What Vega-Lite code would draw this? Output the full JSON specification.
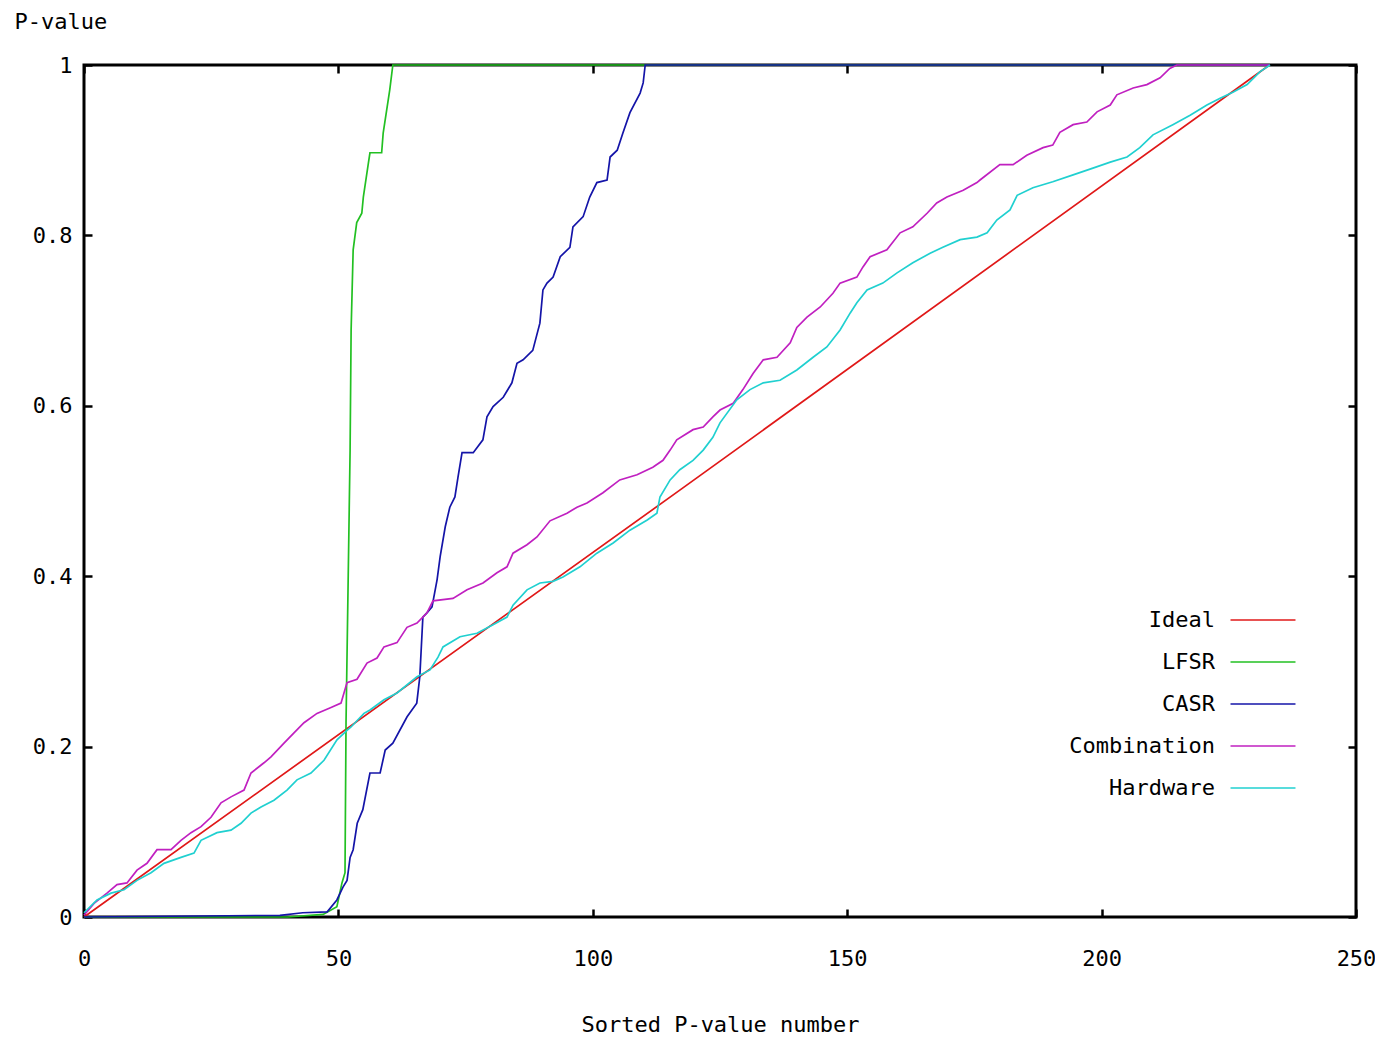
{
  "$schema": "https://vega.github.io/schema/vega-lite/v6.json",
  "autosize": {"type": "none"},
  "padding": {"left": 84, "top": 65, "right": 19, "bottom": 121},
  "width": 1272,
  "height": 852,
  "background": "white",
  "config": {
    "font": "DejaVu Sans Mono",
    "view": {"stroke": "black", "strokeWidth": 3},
    "axis": {"labelFont": "DejaVu Sans Mono", "titleFont": "DejaVu Sans Mono", "labelFontSize": 22, "titleFontSize": 22, "labelColor": "black", "titleColor": "black", "titleFontWeight": "normal", "grid": false, "domain": false, "tickColor": "black", "tickWidth": 2.5, "tickSize": -8, "labelFlush": false},
    "legend": {"labelFont": "DejaVu Sans Mono", "labelFontSize": 22, "labelColor": "black"}
  },
  "data": {"values": [
    {"series":"Ideal","n":0,"p":0},
    {"series":"Ideal","n":117.1,"p":0.501},
    {"series":"Ideal","n":233,"p":1},

    {"series":"LFSR","n":0,"p":0},
    {"series":"LFSR","n":40,"p":0},
    {"series":"LFSR","n":47,"p":0.003},
    {"series":"LFSR","n":49.7,"p":0.012},
    {"series":"LFSR","n":50.7,"p":0.04},
    {"series":"LFSR","n":51.3,"p":0.052},
    {"series":"LFSR","n":51.5,"p":0.228},
    {"series":"LFSR","n":52.3,"p":0.548},
    {"series":"LFSR","n":52.5,"p":0.689},
    {"series":"LFSR","n":52.9,"p":0.783},
    {"series":"LFSR","n":53.6,"p":0.815},
    {"series":"LFSR","n":54.6,"p":0.826},
    {"series":"LFSR","n":54.9,"p":0.845},
    {"series":"LFSR","n":55.9,"p":0.885},
    {"series":"LFSR","n":56.2,"p":0.897},
    {"series":"LFSR","n":58.5,"p":0.897},
    {"series":"LFSR","n":58.8,"p":0.92},
    {"series":"LFSR","n":60.1,"p":0.971},
    {"series":"LFSR","n":60.7,"p":1},
    {"series":"LFSR","n":233,"p":1},

    {"series":"CASR","n":0,"p":0},
    {"series":"CASR","n":38.5,"p":0.002},
    {"series":"CASR","n":43,"p":0.005},
    {"series":"CASR","n":47.8,"p":0.006},
    {"series":"CASR","n":49.7,"p":0.02},
    {"series":"CASR","n":50.9,"p":0.035},
    {"series":"CASR","n":51.7,"p":0.043},
    {"series":"CASR","n":52.3,"p":0.07},
    {"series":"CASR","n":52.9,"p":0.079},
    {"series":"CASR","n":53.7,"p":0.11},
    {"series":"CASR","n":54.8,"p":0.126},
    {"series":"CASR","n":56.2,"p":0.169},
    {"series":"CASR","n":58.2,"p":0.169},
    {"series":"CASR","n":59.2,"p":0.196},
    {"series":"CASR","n":60.7,"p":0.204},
    {"series":"CASR","n":63.5,"p":0.235},
    {"series":"CASR","n":65.4,"p":0.251},
    {"series":"CASR","n":66.0,"p":0.282},
    {"series":"CASR","n":66.6,"p":0.352},
    {"series":"CASR","n":67.4,"p":0.357},
    {"series":"CASR","n":68.4,"p":0.364},
    {"series":"CASR","n":69.4,"p":0.396},
    {"series":"CASR","n":70.0,"p":0.423},
    {"series":"CASR","n":71.0,"p":0.458},
    {"series":"CASR","n":71.9,"p":0.481},
    {"series":"CASR","n":72.9,"p":0.493},
    {"series":"CASR","n":73.5,"p":0.516},
    {"series":"CASR","n":74.3,"p":0.545},
    {"series":"CASR","n":76.5,"p":0.545},
    {"series":"CASR","n":78.4,"p":0.56},
    {"series":"CASR","n":79.2,"p":0.587},
    {"series":"CASR","n":80.4,"p":0.599},
    {"series":"CASR","n":82.4,"p":0.61},
    {"series":"CASR","n":84.1,"p":0.627},
    {"series":"CASR","n":85.1,"p":0.65},
    {"series":"CASR","n":86.3,"p":0.654},
    {"series":"CASR","n":88.2,"p":0.665},
    {"series":"CASR","n":89.6,"p":0.697},
    {"series":"CASR","n":90.2,"p":0.736},
    {"series":"CASR","n":91.0,"p":0.744},
    {"series":"CASR","n":92.2,"p":0.751},
    {"series":"CASR","n":93.6,"p":0.775},
    {"series":"CASR","n":95.5,"p":0.786},
    {"series":"CASR","n":96.1,"p":0.81},
    {"series":"CASR","n":98.1,"p":0.822},
    {"series":"CASR","n":99.4,"p":0.845},
    {"series":"CASR","n":100.8,"p":0.862},
    {"series":"CASR","n":102.8,"p":0.865},
    {"series":"CASR","n":103.4,"p":0.892},
    {"series":"CASR","n":104.8,"p":0.9},
    {"series":"CASR","n":105.9,"p":0.92},
    {"series":"CASR","n":107.3,"p":0.944},
    {"series":"CASR","n":109.3,"p":0.967},
    {"series":"CASR","n":109.9,"p":0.979},
    {"series":"CASR","n":110.3,"p":1},
    {"series":"CASR","n":233,"p":1},

    {"series":"Combination","n":0,"p":0.002},
    {"series":"Combination","n":1.97,"p":0.016},
    {"series":"Combination","n":4.52,"p":0.028},
    {"series":"Combination","n":6.49,"p":0.038},
    {"series":"Combination","n":8.45,"p":0.04},
    {"series":"Combination","n":10.42,"p":0.055},
    {"series":"Combination","n":12.38,"p":0.063},
    {"series":"Combination","n":14.35,"p":0.079},
    {"series":"Combination","n":17.1,"p":0.079},
    {"series":"Combination","n":19.06,"p":0.09},
    {"series":"Combination","n":21.03,"p":0.099},
    {"series":"Combination","n":23.0,"p":0.106},
    {"series":"Combination","n":24.96,"p":0.117},
    {"series":"Combination","n":26.93,"p":0.134},
    {"series":"Combination","n":28.89,"p":0.141},
    {"series":"Combination","n":31.45,"p":0.149},
    {"series":"Combination","n":32.82,"p":0.169},
    {"series":"Combination","n":35.38,"p":0.181},
    {"series":"Combination","n":36.75,"p":0.188},
    {"series":"Combination","n":39.31,"p":0.204},
    {"series":"Combination","n":41.27,"p":0.216},
    {"series":"Combination","n":43.24,"p":0.228},
    {"series":"Combination","n":45.79,"p":0.239},
    {"series":"Combination","n":48.55,"p":0.246},
    {"series":"Combination","n":50.51,"p":0.251},
    {"series":"Combination","n":51.69,"p":0.275},
    {"series":"Combination","n":53.66,"p":0.279},
    {"series":"Combination","n":55.62,"p":0.298},
    {"series":"Combination","n":57.59,"p":0.304},
    {"series":"Combination","n":58.96,"p":0.317},
    {"series":"Combination","n":61.52,"p":0.322},
    {"series":"Combination","n":63.48,"p":0.34},
    {"series":"Combination","n":65.45,"p":0.345},
    {"series":"Combination","n":67.41,"p":0.357},
    {"series":"Combination","n":68.59,"p":0.371},
    {"series":"Combination","n":72.52,"p":0.374},
    {"series":"Combination","n":75.28,"p":0.384},
    {"series":"Combination","n":78.42,"p":0.392},
    {"series":"Combination","n":81.17,"p":0.404},
    {"series":"Combination","n":83.14,"p":0.411},
    {"series":"Combination","n":84.32,"p":0.427},
    {"series":"Combination","n":87.07,"p":0.437},
    {"series":"Combination","n":89.03,"p":0.446},
    {"series":"Combination","n":91.59,"p":0.465},
    {"series":"Combination","n":94.93,"p":0.474},
    {"series":"Combination","n":96.9,"p":0.481},
    {"series":"Combination","n":98.86,"p":0.486},
    {"series":"Combination","n":102.0,"p":0.498},
    {"series":"Combination","n":105.3,"p":0.513},
    {"series":"Combination","n":108.7,"p":0.519},
    {"series":"Combination","n":111.8,"p":0.528},
    {"series":"Combination","n":113.8,"p":0.536},
    {"series":"Combination","n":115.2,"p":0.548},
    {"series":"Combination","n":116.5,"p":0.56},
    {"series":"Combination","n":119.7,"p":0.572},
    {"series":"Combination","n":121.7,"p":0.575},
    {"series":"Combination","n":123.6,"p":0.587},
    {"series":"Combination","n":125.0,"p":0.595},
    {"series":"Combination","n":127.6,"p":0.603},
    {"series":"Combination","n":129.5,"p":0.619},
    {"series":"Combination","n":131.5,"p":0.638},
    {"series":"Combination","n":133.5,"p":0.654},
    {"series":"Combination","n":136.2,"p":0.657},
    {"series":"Combination","n":138.8,"p":0.674},
    {"series":"Combination","n":140.1,"p":0.692},
    {"series":"Combination","n":142.1,"p":0.704},
    {"series":"Combination","n":144.7,"p":0.716},
    {"series":"Combination","n":147.2,"p":0.732},
    {"series":"Combination","n":148.6,"p":0.744},
    {"series":"Combination","n":151.9,"p":0.751},
    {"series":"Combination","n":153.1,"p":0.763},
    {"series":"Combination","n":154.5,"p":0.775},
    {"series":"Combination","n":157.8,"p":0.783},
    {"series":"Combination","n":160.4,"p":0.803},
    {"series":"Combination","n":162.9,"p":0.81},
    {"series":"Combination","n":165.7,"p":0.826},
    {"series":"Combination","n":167.6,"p":0.838},
    {"series":"Combination","n":169.6,"p":0.845},
    {"series":"Combination","n":172.8,"p":0.853},
    {"series":"Combination","n":175.5,"p":0.862},
    {"series":"Combination","n":176.1,"p":0.865},
    {"series":"Combination","n":180.0,"p":0.883},
    {"series":"Combination","n":182.6,"p":0.883},
    {"series":"Combination","n":185.3,"p":0.894},
    {"series":"Combination","n":188.5,"p":0.903},
    {"series":"Combination","n":190.4,"p":0.906},
    {"series":"Combination","n":191.8,"p":0.921},
    {"series":"Combination","n":194.4,"p":0.93},
    {"series":"Combination","n":197.1,"p":0.933},
    {"series":"Combination","n":199.1,"p":0.945},
    {"series":"Combination","n":201.7,"p":0.953},
    {"series":"Combination","n":203.0,"p":0.965},
    {"series":"Combination","n":206.2,"p":0.973},
    {"series":"Combination","n":208.9,"p":0.977},
    {"series":"Combination","n":211.5,"p":0.985},
    {"series":"Combination","n":213.4,"p":0.996},
    {"series":"Combination","n":214.8,"p":1},
    {"series":"Combination","n":233,"p":1},

    {"series":"Hardware","n":0,"p":0.005},
    {"series":"Hardware","n":2.56,"p":0.02},
    {"series":"Hardware","n":5.31,"p":0.028},
    {"series":"Hardware","n":7.86,"p":0.032},
    {"series":"Hardware","n":10.42,"p":0.043},
    {"series":"Hardware","n":13.17,"p":0.052},
    {"series":"Hardware","n":15.72,"p":0.063},
    {"series":"Hardware","n":19.06,"p":0.07},
    {"series":"Hardware","n":21.62,"p":0.075},
    {"series":"Hardware","n":23.0,"p":0.09},
    {"series":"Hardware","n":26.14,"p":0.099},
    {"series":"Hardware","n":28.89,"p":0.102},
    {"series":"Hardware","n":30.86,"p":0.11},
    {"series":"Hardware","n":32.82,"p":0.122},
    {"series":"Hardware","n":34.79,"p":0.129},
    {"series":"Hardware","n":37.34,"p":0.137},
    {"series":"Hardware","n":39.9,"p":0.149},
    {"series":"Hardware","n":41.86,"p":0.161},
    {"series":"Hardware","n":44.61,"p":0.169},
    {"series":"Hardware","n":47.17,"p":0.184},
    {"series":"Hardware","n":49.72,"p":0.208},
    {"series":"Hardware","n":51.69,"p":0.219},
    {"series":"Hardware","n":52.48,"p":0.223},
    {"series":"Hardware","n":55.03,"p":0.239},
    {"series":"Hardware","n":56.21,"p":0.243},
    {"series":"Hardware","n":58.96,"p":0.255},
    {"series":"Hardware","n":61.52,"p":0.263},
    {"series":"Hardware","n":65.45,"p":0.282},
    {"series":"Hardware","n":68.0,"p":0.29},
    {"series":"Hardware","n":69.58,"p":0.305},
    {"series":"Hardware","n":70.56,"p":0.317},
    {"series":"Hardware","n":73.9,"p":0.329},
    {"series":"Hardware","n":77.24,"p":0.333},
    {"series":"Hardware","n":80.39,"p":0.343},
    {"series":"Hardware","n":83.14,"p":0.352},
    {"series":"Hardware","n":84.32,"p":0.366},
    {"series":"Hardware","n":87.07,"p":0.384},
    {"series":"Hardware","n":89.62,"p":0.392},
    {"series":"Hardware","n":92.18,"p":0.394},
    {"series":"Hardware","n":94.14,"p":0.399},
    {"series":"Hardware","n":97.48,"p":0.411},
    {"series":"Hardware","n":100.8,"p":0.427},
    {"series":"Hardware","n":104.0,"p":0.439},
    {"series":"Hardware","n":107.3,"p":0.454},
    {"series":"Hardware","n":110.7,"p":0.466},
    {"series":"Hardware","n":112.6,"p":0.474},
    {"series":"Hardware","n":113.2,"p":0.493},
    {"series":"Hardware","n":115.2,"p":0.513},
    {"series":"Hardware","n":117.1,"p":0.525},
    {"series":"Hardware","n":119.7,"p":0.536},
    {"series":"Hardware","n":121.7,"p":0.548},
    {"series":"Hardware","n":123.6,"p":0.563},
    {"series":"Hardware","n":125.0,"p":0.58},
    {"series":"Hardware","n":128.3,"p":0.607},
    {"series":"Hardware","n":130.9,"p":0.619},
    {"series":"Hardware","n":133.5,"p":0.627},
    {"series":"Hardware","n":136.8,"p":0.63},
    {"series":"Hardware","n":140.1,"p":0.642},
    {"series":"Hardware","n":143.3,"p":0.657},
    {"series":"Hardware","n":146.0,"p":0.669},
    {"series":"Hardware","n":148.6,"p":0.689},
    {"series":"Hardware","n":150.6,"p":0.709},
    {"series":"Hardware","n":151.9,"p":0.721},
    {"series":"Hardware","n":153.9,"p":0.736},
    {"series":"Hardware","n":157.0,"p":0.744},
    {"series":"Hardware","n":159.8,"p":0.756},
    {"series":"Hardware","n":162.9,"p":0.768},
    {"series":"Hardware","n":166.3,"p":0.779},
    {"series":"Hardware","n":168.8,"p":0.786},
    {"series":"Hardware","n":172.2,"p":0.795},
    {"series":"Hardware","n":175.5,"p":0.798},
    {"series":"Hardware","n":177.5,"p":0.803},
    {"series":"Hardware","n":179.4,"p":0.818},
    {"series":"Hardware","n":182.0,"p":0.83},
    {"series":"Hardware","n":183.4,"p":0.847},
    {"series":"Hardware","n":186.5,"p":0.856},
    {"series":"Hardware","n":190.4,"p":0.863},
    {"series":"Hardware","n":194.4,"p":0.871},
    {"series":"Hardware","n":198.3,"p":0.879},
    {"series":"Hardware","n":201.7,"p":0.886},
    {"series":"Hardware","n":205.0,"p":0.892},
    {"series":"Hardware","n":207.5,"p":0.903},
    {"series":"Hardware","n":210.1,"p":0.918},
    {"series":"Hardware","n":214.0,"p":0.93},
    {"series":"Hardware","n":217.4,"p":0.941},
    {"series":"Hardware","n":220.7,"p":0.953},
    {"series":"Hardware","n":223.3,"p":0.961},
    {"series":"Hardware","n":225.8,"p":0.968},
    {"series":"Hardware","n":228.6,"p":0.977},
    {"series":"Hardware","n":231.1,"p":0.992},
    {"series":"Hardware","n":233.1,"p":1}
  ]},
  "layer": [
    {
      "mark": {"type": "line", "strokeWidth": 1.7},
      "encoding": {
        "x": {"field": "n", "type": "quantitative", "scale": {"domain": [0, 250], "nice": false, "zero": false},
              "axis": {"orient": "bottom", "values": [0, 50, 100, 150, 200, 250], "labelPadding": 39, "title": "Sorted P-value number", "titleY": 114, "titleBaseline": "alphabetic"}},
        "y": {"field": "p", "type": "quantitative", "scale": {"domain": [0, 1], "nice": false},
              "axis": {"orient": "left", "values": [0, 0.2, 0.4, 0.6, 0.8, 1], "format": "~g", "labelPadding": 20, "title": "P-value", "titleAngle": 0, "titleX": -70, "titleY": -37, "titleAlign": "left", "titleBaseline": "alphabetic"}},
        "color": {"field": "series", "type": "nominal",
                  "scale": {"domain": ["Ideal", "LFSR", "CASR", "Combination", "Hardware"], "range": ["#e01818", "#22c022", "#1414a8", "#c020c0", "#20d0d0"]},
                  "legend": {"title": null, "orient": "none", "legendX": 1167, "legendY": 543, "padding": 0, "symbolType": "M-3,0H3", "symbolSize": 469, "symbolStrokeWidth": 1.7, "labelAlign": "right", "labelOffset": -60, "rowPadding": 19}},
        "order": {"field": "n", "type": "quantitative"}
      }
    },
    {
      "mark": {"type": "line", "opacity": 0},
      "encoding": {
        "x": {"field": "n", "type": "quantitative", "axis": {"orient": "top", "values": [0, 50, 100, 150, 200, 250], "labels": false, "title": null}},
        "y": {"field": "p", "type": "quantitative", "axis": {"orient": "right", "values": [0, 0.2, 0.4, 0.6, 0.8, 1], "labels": false, "title": null}},
        "detail": {"field": "series"}
      }
    }
  ],
  "resolve": {"axis": {"x": "independent", "y": "independent"}}
}
